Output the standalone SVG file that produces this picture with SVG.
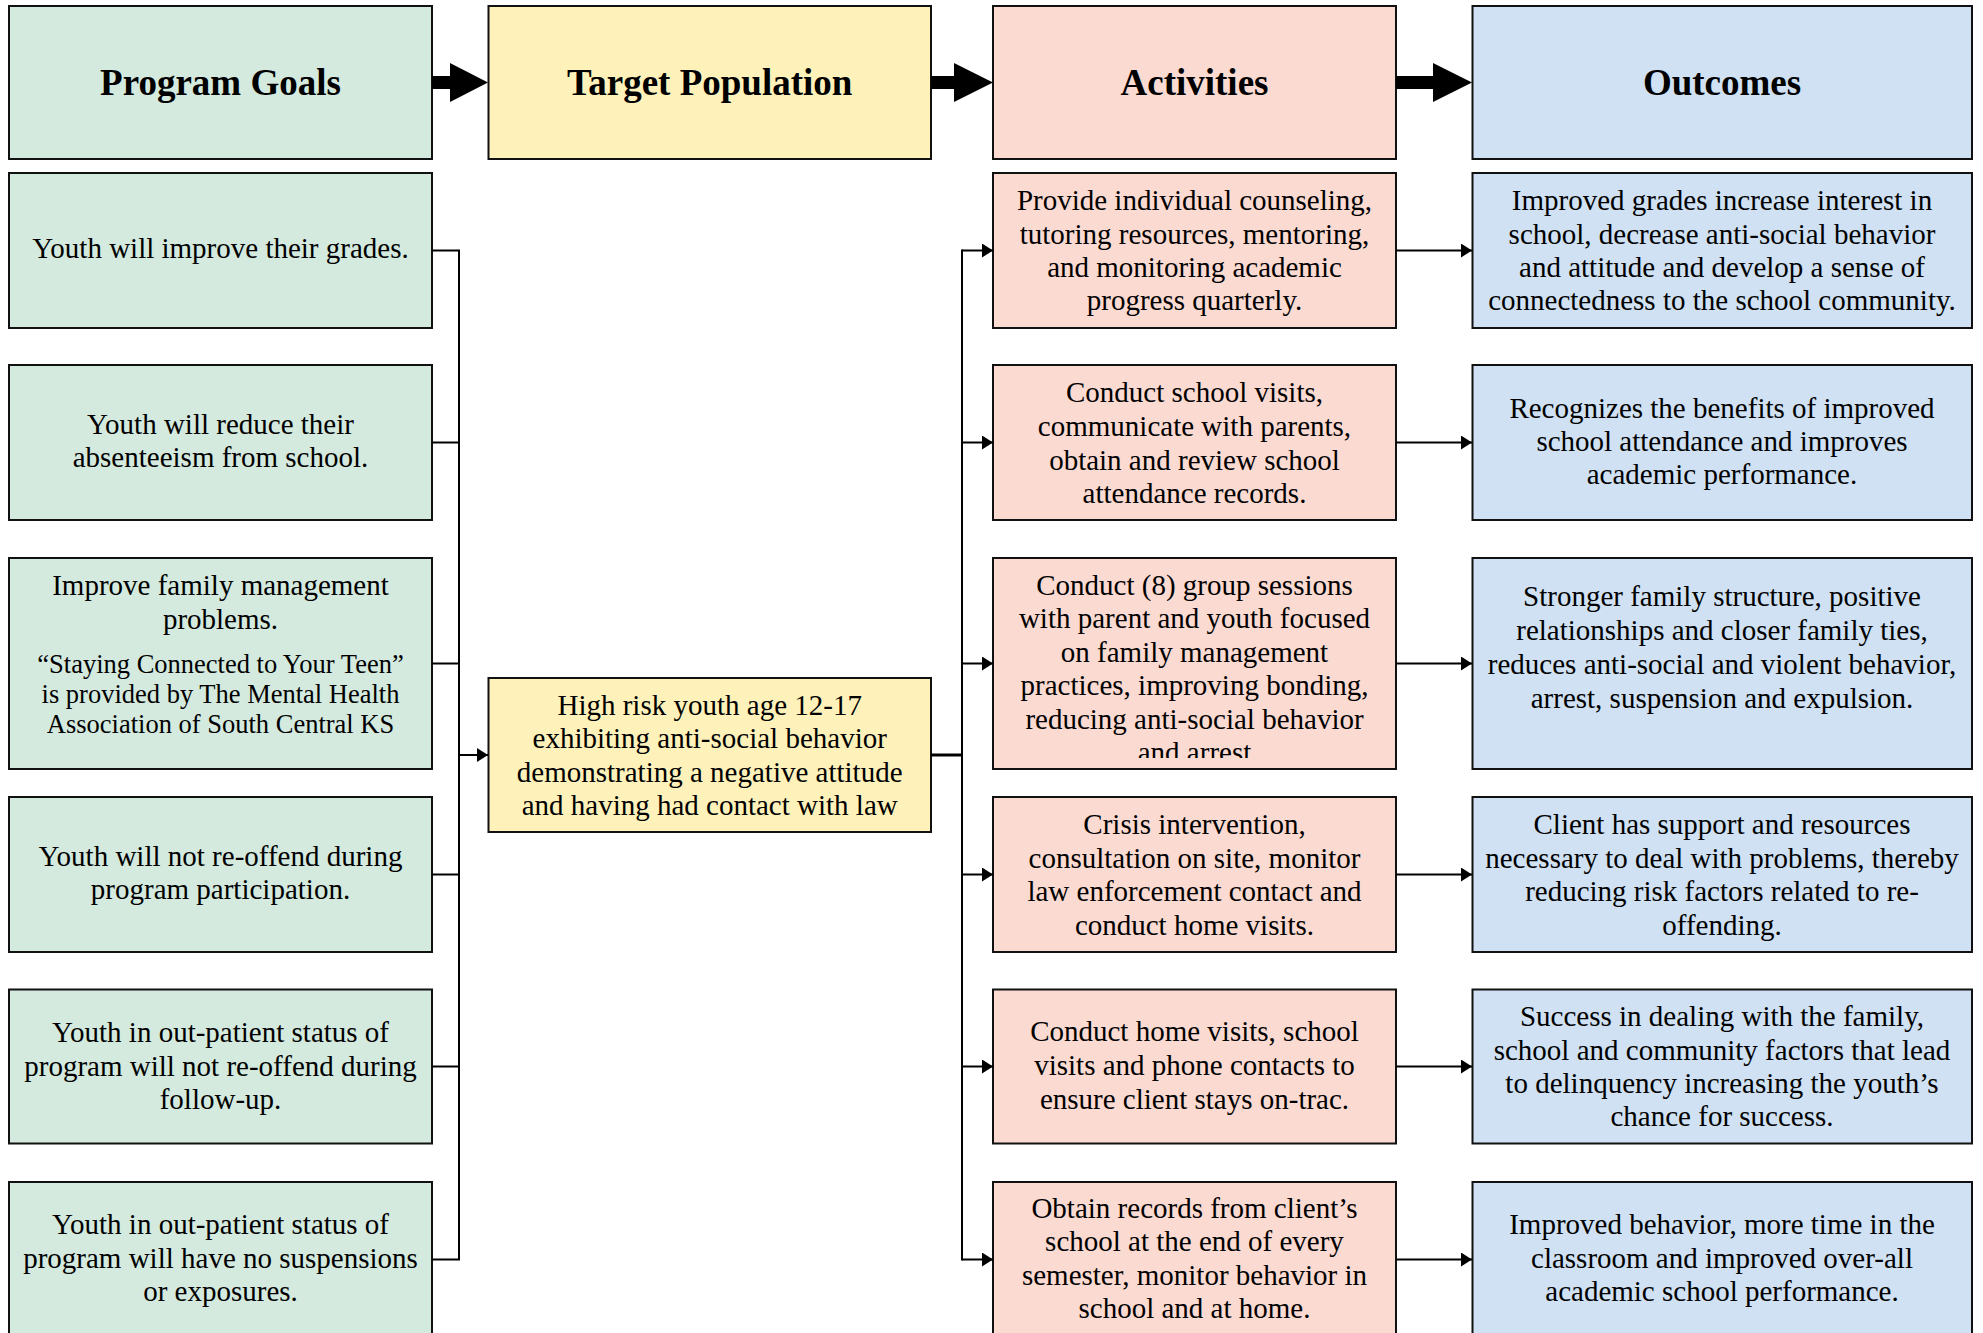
<svg xmlns="http://www.w3.org/2000/svg" width="1983" height="1333" viewBox="0 0 1983 1333">
<style>
.box{stroke:#111;stroke-width:2}
.g{fill:#D4EADE}
.y{fill:#FEF2BA}
.p{fill:#FBDAD1}
.b{fill:#CFE1F2}
text{font-family:"Liberation Serif","Times New Roman",serif;fill:#000;text-anchor:middle}
.h{font-size:37px;font-weight:bold}
.t{font-size:29px}
.s{font-size:26.5px}
.ln{fill:none;stroke:#000;stroke-width:2}
.blk{fill:#000}
</style>
<defs>
<marker id="ah" markerUnits="userSpaceOnUse" markerWidth="12" markerHeight="14" refX="11" refY="7" orient="auto">
<path d="M0,0 L11,7 L0,14 Z" fill="#000"/>
</marker>
<clipPath id="clipA3"><rect x="993" y="558" width="403" height="200"/></clipPath>
</defs>
<rect width="1983" height="1333" fill="#fff"/>

<g id="header-goals"><rect class="box g" x="9" y="6" width="423" height="153"/><text class="h" x="220.5" y="95">Program Goals</text></g>
<g id="header-target"><rect class="box y" x="488.5" y="6" width="442.5" height="153"/><text class="h" x="709.7" y="95">Target Population</text></g>
<g id="header-activities"><rect class="box p" x="993" y="6" width="403" height="153"/><text class="h" x="1194.5" y="95">Activities</text></g>
<g id="header-outcomes"><rect class="box b" x="1472.5" y="6" width="499.5" height="153"/><text class="h" x="1722" y="95">Outcomes</text></g>

<g id="goal1"><rect class="box g" x="9" y="173" width="423" height="155"/><text class="t" x="220.5" y="257.5">Youth will improve their grades.</text></g>
<g id="goal2"><rect class="box g" x="9" y="365" width="423" height="155"/><text class="t" x="220.5" y="434">Youth will reduce their</text><text class="t" x="220.5" y="467">absenteeism from school.</text></g>
<g id="goal3"><rect class="box g" x="9" y="558" width="423" height="211"/><text class="t" x="220.5" y="595">Improve family management</text><text class="t" x="220.5" y="628.5">problems.</text><text class="s" x="220.5" y="672.5">“Staying Connected to Your Teen”</text><text class="s" x="220.5" y="702.5">is provided by The Mental Health</text><text class="s" x="220.5" y="732.5">Association of South Central KS</text></g>
<g id="goal4"><rect class="box g" x="9" y="797" width="423" height="155"/><text class="t" x="220.5" y="866">Youth will not re-offend during</text><text class="t" x="220.5" y="899">program participation.</text></g>
<g id="goal5"><rect class="box g" x="9" y="989.5" width="423" height="154"/><text class="t" x="220.5" y="1042">Youth in out-patient status of</text><text class="t" x="220.5" y="1075.5">program will not re-offend during</text><text class="t" x="220.5" y="1109">follow-up.</text></g>
<g id="goal6"><rect class="box g" x="9" y="1182" width="423" height="165"/><text class="t" x="220.5" y="1233.5">Youth in out-patient status of</text><text class="t" x="220.5" y="1267.5">program will have no suspensions</text><text class="t" x="220.5" y="1301">or exposures.</text></g>

<g id="target"><rect class="box y" x="488.5" y="678" width="442.5" height="154"/><text class="t" x="709.7" y="715">High risk youth age 12-17</text><text class="t" x="709.7" y="748">exhibiting anti-social behavior</text><text class="t" x="709.7" y="781.5">demonstrating a negative attitude</text><text class="t" x="709.7" y="815">and having had contact with law</text></g>

<g id="act1"><rect class="box p" x="993" y="173" width="403" height="155"/><text class="t" x="1194.5" y="210">Provide individual counseling,</text><text class="t" x="1194.5" y="243.5">tutoring resources, mentoring,</text><text class="t" x="1194.5" y="277">and monitoring academic</text><text class="t" x="1194.5" y="310">progress quarterly.</text></g>
<g id="act2"><rect class="box p" x="993" y="365" width="403" height="155"/><text class="t" x="1194.5" y="402">Conduct school visits,</text><text class="t" x="1194.5" y="436">communicate with parents,</text><text class="t" x="1194.5" y="469.5">obtain and review school</text><text class="t" x="1194.5" y="503">attendance records.</text></g>
<g id="act3"><rect class="box p" x="993" y="558" width="403" height="211"/><g clip-path="url(#clipA3)"><text class="t" x="1194.5" y="594.5">Conduct (8) group sessions</text><text class="t" x="1194.5" y="628">with parent and youth focused</text><text class="t" x="1194.5" y="661.5">on family management</text><text class="t" x="1194.5" y="695">practices, improving bonding,</text><text class="t" x="1194.5" y="728.5">reducing anti-social behavior</text><text class="t" x="1194.5" y="762">and arrest</text></g></g>
<g id="act4"><rect class="box p" x="993" y="797" width="403" height="155"/><text class="t" x="1194.5" y="834">Crisis intervention,</text><text class="t" x="1194.5" y="868">consultation on site, monitor</text><text class="t" x="1194.5" y="901">law enforcement contact and</text><text class="t" x="1194.5" y="934.5">conduct home visits.</text></g>
<g id="act5"><rect class="box p" x="993" y="989.5" width="403" height="154"/><text class="t" x="1194.5" y="1041">Conduct home visits, school</text><text class="t" x="1194.5" y="1075">visits and phone contacts to</text><text class="t" x="1194.5" y="1108.5">ensure client stays on-trac.</text></g>
<g id="act6"><rect class="box p" x="993" y="1182" width="403" height="165"/><text class="t" x="1194.5" y="1218">Obtain records from client’s</text><text class="t" x="1194.5" y="1251">school at the end of every</text><text class="t" x="1194.5" y="1284.5">semester, monitor behavior in</text><text class="t" x="1194.5" y="1318">school and at home.</text></g>

<g id="out1"><rect class="box b" x="1472.5" y="173" width="499.5" height="155"/><text class="t" x="1722" y="210">Improved grades increase interest in</text><text class="t" x="1722" y="243.5">school, decrease anti-social behavior</text><text class="t" x="1722" y="277">and attitude and develop a sense of</text><text class="t" x="1722" y="310">connectedness to the school community.</text></g>
<g id="out2"><rect class="box b" x="1472.5" y="365" width="499.5" height="155"/><text class="t" x="1722" y="417.5">Recognizes the benefits of improved</text><text class="t" x="1722" y="450.5">school attendance and improves</text><text class="t" x="1722" y="484">academic performance.</text></g>
<g id="out3"><rect class="box b" x="1472.5" y="558" width="499.5" height="211"/><text class="t" x="1722" y="606">Stronger family structure, positive</text><text class="t" x="1722" y="640">relationships and closer family ties,</text><text class="t" x="1722" y="673.5">reduces anti-social and violent behavior,</text><text class="t" x="1722" y="707.5">arrest, suspension and expulsion.</text></g>
<g id="out4"><rect class="box b" x="1472.5" y="797" width="499.5" height="155"/><text class="t" x="1722" y="834">Client has support and resources</text><text class="t" x="1722" y="868">necessary to deal with problems, thereby</text><text class="t" x="1722" y="901">reducing risk factors related to re-</text><text class="t" x="1722" y="934.5">offending.</text></g>
<g id="out5"><rect class="box b" x="1472.5" y="989.5" width="499.5" height="154"/><text class="t" x="1722" y="1026">Success in dealing with the family,</text><text class="t" x="1722" y="1059.5">school and community factors that lead</text><text class="t" x="1722" y="1092.5">to delinquency increasing the youth’s</text><text class="t" x="1722" y="1126">chance for success.</text></g>
<g id="out6"><rect class="box b" x="1472.5" y="1182" width="499.5" height="165"/><text class="t" x="1722" y="1233.5">Improved behavior, more time in the</text><text class="t" x="1722" y="1267.5">classroom and improved over-all</text><text class="t" x="1722" y="1301">academic school performance.</text></g>

<g id="connectors">
<path class="blk" d="M432,76 H450 V63 L488,82.5 L450,102 V89 H432 Z"/>
<path class="blk" d="M931,76 H954 V63 L993,82.5 L954,102 V89 H931 Z"/>
<path class="blk" d="M1396,76 H1433 V63 L1472,82.5 L1433,102 V89 H1396 Z"/>
<path class="ln" d="M432,250.5 H459 M432,442.5 H459 M432,663.5 H459 M432,874.5 H459 M432,1066.5 H459 M432,1259.5 H459 M459,249.5 V1260.5"/>
<path class="ln" d="M459,755 H488" marker-end="url(#ah)"/>
<path class="ln" style="stroke-width:3" d="M931,755 H962"/>
<path class="ln" d="M962,249.5 V1260.5"/>
<path class="ln" d="M962,250.5 H993" marker-end="url(#ah)"/>
<path class="ln" d="M962,442.5 H993" marker-end="url(#ah)"/>
<path class="ln" d="M962,663.5 H993" marker-end="url(#ah)"/>
<path class="ln" d="M962,874.5 H993" marker-end="url(#ah)"/>
<path class="ln" d="M962,1066.5 H993" marker-end="url(#ah)"/>
<path class="ln" d="M962,1259.5 H993" marker-end="url(#ah)"/>
<path class="ln" d="M1396,250.5 H1472" marker-end="url(#ah)"/>
<path class="ln" d="M1396,442.5 H1472" marker-end="url(#ah)"/>
<path class="ln" d="M1396,663.5 H1472" marker-end="url(#ah)"/>
<path class="ln" d="M1396,874.5 H1472" marker-end="url(#ah)"/>
<path class="ln" d="M1396,1066.5 H1472" marker-end="url(#ah)"/>
<path class="ln" d="M1396,1259.5 H1472" marker-end="url(#ah)"/>
</g>
</svg>
